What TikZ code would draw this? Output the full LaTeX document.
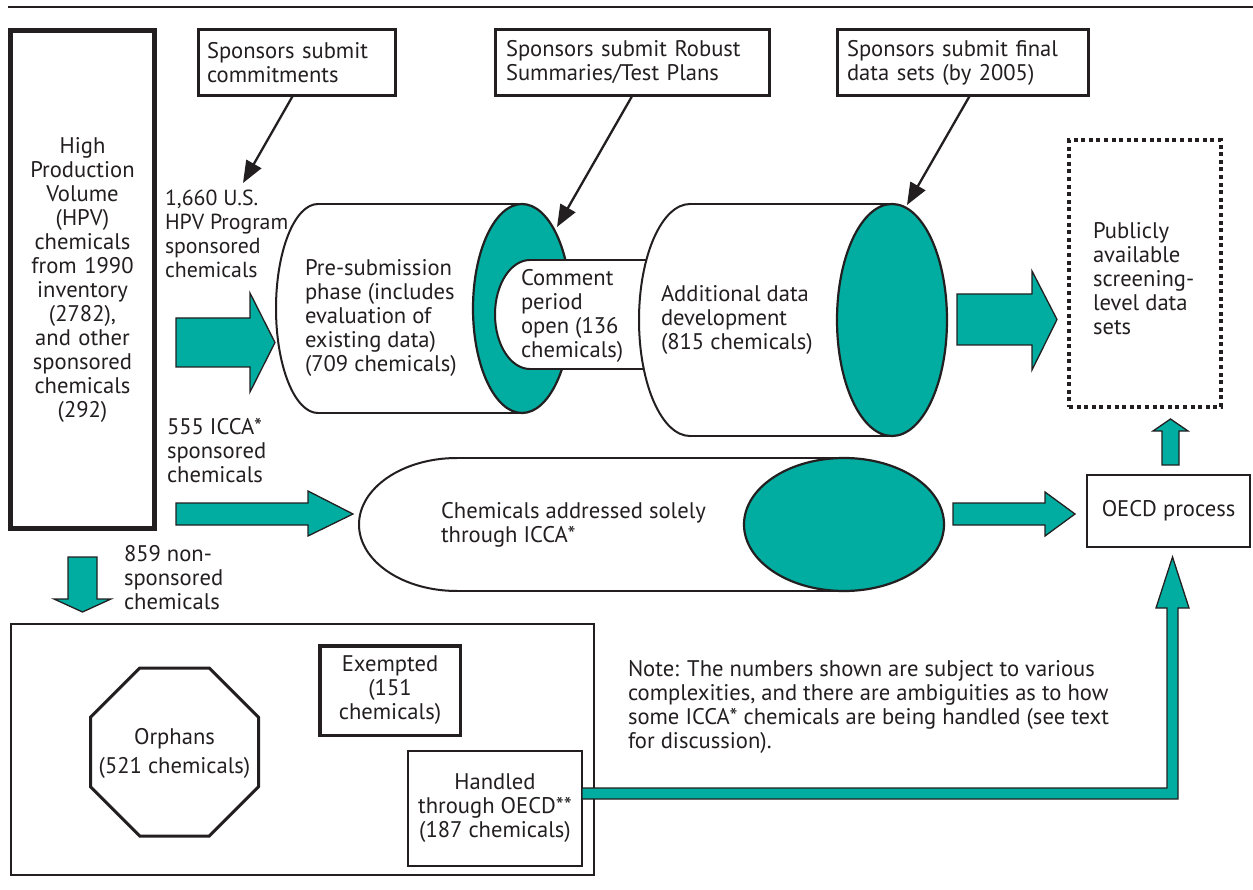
\documentclass[tikz,border=0pt]{standalone}
\usepackage{fontspec}
\setmainfont{PT Sans}
\usetikzlibrary{calc,arrows.meta,shapes.geometric}
\definecolor{ink}{HTML}{231F20}
\definecolor{tealfill}{RGB}{0,173,160}
\begin{document}
\begin{tikzpicture}[x=1pt,y=-1pt,
  every node/.style={inner sep=0pt, outer sep=0pt, text=ink, font=\fontsize{22.6}{24}\selectfont},
  sbox/.style={draw=ink, line width=3.3pt, rectangle, anchor=north west, align=left, minimum height=65.7pt},
  thinbox/.style={draw=ink, line width=2pt, rectangle, anchor=north west, align=center},
  cylline/.style={draw=ink, line width=2pt},
  whiteend/.style={ellipse, fill=white, draw=ink, line width=2pt},
  tealend/.style={ellipse, fill=tealfill, draw=ink, line width=2.2pt},
  blockarrow/.style={fill=tealfill, draw=ink, line width=1.3pt, line join=miter},
  ptr/.style={draw=ink, line width=2.3pt, -{Triangle[length=22pt,width=17pt]}},
  lbl/.style={anchor=west, align=left}
]
\useasboundingbox (0,0) rectangle (1253,890);
\fill[white] (0,0) rectangle (1253,890);

% top rule
\draw[ink, line width=2.5pt] (8,7) -- (1253,7);

% HPV box
\node[draw=ink, line width=5pt, anchor=north west, minimum width=144pt, minimum height=498pt,
      text width=144pt, align=center] (hpv) at (10.5,30.5)
  {High\\Production\\Volume\\(HPV)\\chemicals\\from 1990\\inventory\\(2782),\\and other\\sponsored\\chemicals\\(292)};

% sponsor boxes
\node[sbox, minimum width=196.7pt, inner xsep=8.35pt, text width=180pt] (commit) at (198.65,29.65)
  {Sponsors submit\\commitments};
\node[sbox, minimum width=273.7pt, inner xsep=10.35pt, text width=253pt] (robust) at (495.65,29.65)
  {Sponsors submit Robust\\Summaries/Test Plans};
\node[sbox, minimum width=250.7pt, inner xsep=9.35pt, text width=232pt] (final) at (837.65,29.65)
  {Sponsors submit final\\data sets (by 2005)};

% side labels
\node[lbl, font=\fontsize{21.8}{24}\selectfont] (lab1660) at (165,234) {1,660 U.S.\\HPV Program\\sponsored\\chemicals};
\node[lbl] (lab555) at (167,451) {555 ICCA*\\sponsored\\chemicals};
\node[lbl] (lab859) at (124,577.5) {859 non-\\sponsored\\chemicals};

% cylinder 1 (pre-submission)
\node[whiteend, minimum width=84pt, minimum height=209pt] (c1left) at (318,308.5) {};
\fill[white] (318,204) rectangle (522,413);
\draw[cylline] (318,204) -- (522,204) (318,413) -- (522,413);
\node[tealend, minimum width=98pt, minimum height=209pt] (c1end) at (522,308.5) {};
\node[lbl] (pretext) at (305,317.5) {Pre-submission\\phase (includes\\evaluation of\\existing data)\\(709 chemicals)};

% comment period cylinder
\node[whiteend, minimum width=70pt, minimum height=109pt] (c2left) at (530,314.5) {};
\fill[white] (530,260) rectangle (700,369);
\draw[cylline] (530,260) -- (700,260) (530,369) -- (700,369);

% cylinder 2 (additional data)
\node[whiteend, minimum width=102pt, minimum height=232pt] (c3left) at (690,320) {};
\fill[white] (690,204) rectangle (892,436);
\draw[cylline] (690,204) -- (892,204) (690,436) -- (892,436);
\node[tealend, minimum width=110pt, minimum height=232pt] (c3end) at (892,320) {};
\node[lbl] (commenttext) at (521,316) {Comment\\period\\open (136\\chemicals)};
\node[lbl] (addtext) at (661,319.5) {Additional data\\development\\(815 chemicals)};

% ICCA pill
\node[whiteend, minimum width=196pt, minimum height=133pt] (pillleft) at (457,524.5) {};
\fill[white] (457,458) rectangle (844,591);
\draw[cylline] (457,458) -- (844,458) (457,591) -- (844,591);
\node[tealend, minimum width=200pt, minimum height=133pt] (pillend) at (844,524.5) {};
\node[lbl] (pilltext) at (441,525) {Chemicals addressed solely\\through ICCA*};

% publicly available box
\node[draw=ink, line width=4pt, dash pattern=on 4pt off 3.6pt, anchor=north west,
      minimum width=152pt, minimum height=267pt] (pub) at (1069,140) {};
\node[lbl] (pubtext) at (1093,279) {Publicly\\available\\screening-\\level data\\sets};

% OECD process
\node[thinbox, minimum width=163pt, minimum height=72pt] (oecd) at (1087,475) {OECD process};

% bottom pool
\node[thinbox, minimum width=583pt, minimum height=251pt] (pool) at (11,624) {};
\draw[draw=ink, line width=3pt, line join=miter]
  (139.7,668) -- (209.3,668) -- (258.5,717.2) -- (258.5,786.8) -- (209.3,836) -- (139.7,836)
  -- (90.5,786.8) -- (90.5,717.2) -- cycle;
\node[align=center] (orph) at (174.5,753) {Orphans\\[5pt](521 chemicals)};
\node[draw=ink, line width=3.5pt, rectangle, anchor=north west, align=center, minimum width=140.5pt, minimum height=89.5pt] (exempt) at (319.75,645.75)
  {Exempted\\(151\\chemicals)};
\node[thinbox, minimum width=174pt, minimum height=115pt] (handled) at (408,751)
  {Handled\\through OECD**\\(187 chemicals)};

% note
\node[lbl] (note) at (628,707) {Note: The numbers shown are subject to various\\complexities, and there are ambiguities as to how\\some ICCA* chemicals are being handled (see text\\for discussion).};

% teal block arrows
\draw[blockarrow] (176,318) -- (250,318) -- (250,293) -- (275,342.5) -- (250,392) -- (250,367) -- (176,367) -- cycle;
\draw[blockarrow] (176,503) -- (308,503) -- (308,491) -- (353,514) -- (308,536) -- (308,525) -- (176,525) -- cycle;
\draw[blockarrow] (957,294) -- (1032,294) -- (1032,271) -- (1057,319.5) -- (1032,370) -- (1032,345) -- (957,345) -- cycle;
\draw[blockarrow] (953,503) -- (1045,503) -- (1045,492) -- (1075,514) -- (1045,536) -- (1045,525) -- (953,525) -- cycle;
\draw[blockarrow] (1162,465) -- (1162,431) -- (1153,431) -- (1170.5,419) -- (1188,431) -- (1179,431) -- (1179,465) -- cycle;
\draw[blockarrow] (68,557) -- (97,557) -- (97,599) -- (111,599) -- (82.5,612) -- (54,599) -- (68,599) -- cycle;
\draw[blockarrow] (582,788) -- (1167,788) -- (1167,608) -- (1156,608) -- (1172.5,557) -- (1189,608) -- (1178,608) -- (1178,799) -- (582,799) -- cycle;

% thin pointer arrows
\coordinate (tip1) at (243,183);
\coordinate (tip2) at (557,227);
\coordinate (tip3) at (907,205);
\draw[ptr] ($(commit.south west)!0.48!(commit.south east)$) -- (tip1);
\draw[ptr] (robust.south) -- (tip2);
\draw[ptr] ($(final.south west)!0.528!(final.south east)$) -- (tip3);
\end{tikzpicture}
\end{document}
